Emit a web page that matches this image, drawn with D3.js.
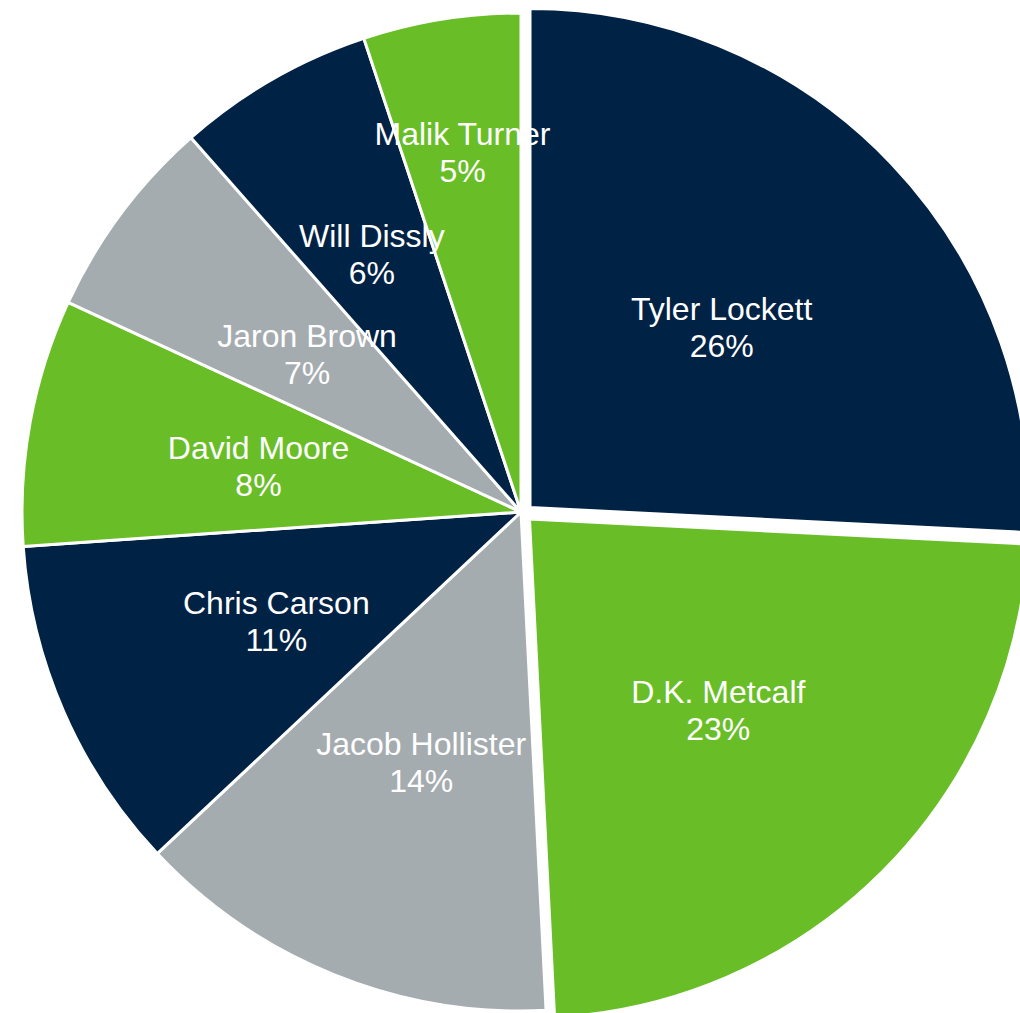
<!DOCTYPE html>
<html>
<head>
<meta charset="utf-8">
<script src="https://cdn.jsdelivr.net/npm/d3@7"></script>
<style>
  html, body { margin: 0; padding: 0; background: #ffffff; }
  svg { display: block; }
</style>
</head>
<body>
<svg id="chart" width="1020" height="1013"></svg>
<script>
// ---- data ----
const players = ["Tyler Lockett", "D.K. Metcalf", "Jacob Hollister", "Chris Carson",
                 "David Moore", "Jaron Brown", "Will Dissly", "Malik Turner"];
const shares  = [25.8, 23.4, 13.8, 10.9, 8.0, 6.6, 6.4, 5.1];
const sliceColors = ["#002244", "#69BE28", "#A5ACAF", "#002244",
                     "#69BE28", "#A5ACAF", "#002244", "#69BE28"];
const exploded = ["Tyler Lockett", "D.K. Metcalf"];

// ---- layout ----
const cx = 521, cy = 512, R = 499;
const explodeOffsets = { "Tyler Lockett": [9, -4.5], "D.K. Metcalf": [8.5, 7] };
const labelFactorDefault = 0.535;
const labelFactor = { "Tyler Lockett": 0.53, "Will Dissly": 0.60, "Malik Turner": 0.735 };

const data = players.map((p, i) => ({ name: p, value: shares[i], color: sliceColors[i] }));
const total = d3.sum(shares);

const pie = d3.pie().sort(null).value(d => d.value).startAngle(0).endAngle(2 * Math.PI);
const arc = d3.arc().innerRadius(0).outerRadius(R);
const arcs = pie(data);

const svg = d3.select("#chart");
const g = svg.append("g").attr("transform", `translate(${cx},${cy})`);

function offsetOf(d) {
  if (!exploded.includes(d.data.name)) return [0, 0];
  return explodeOffsets[d.data.name] || [0, 0];
}

g.selectAll("path.slice")
  .data(arcs)
  .join("path")
  .attr("class", "slice")
  .attr("d", arc)
  .attr("transform", d => { const o = offsetOf(d); return `translate(${o[0]},${o[1]})`; })
  .attr("fill", d => d.data.color)
  .attr("stroke", "#ffffff")
  .attr("stroke-width", 3)
  .attr("stroke-linejoin", "round");

const fmt = v => Math.round(v / total * 100) + "%";

g.selectAll("text.lbl")
  .data(arcs)
  .join("text")
  .attr("class", "lbl")
  .attr("text-anchor", "middle")
  .attr("fill", "#ffffff")
  .style("font-family", "'Liberation Sans', Arial, Helvetica, sans-serif")
  .style("font-size", "32px")
  .each(function (d) {
    const o = offsetOf(d);
    const m = (d.startAngle + d.endAngle) / 2;
    const f = labelFactor[d.data.name] || labelFactorDefault;
    const x = o[0] + f * R * Math.sin(m);
    const y = o[1] - f * R * Math.cos(m);
    const t = d3.select(this);
    t.append("tspan").attr("x", x).attr("y", y - 5).text(d.data.name);
    t.append("tspan").attr("x", x).attr("y", y + 32).text(fmt(d.data.value));
  });
</script>
</body>
</html>
